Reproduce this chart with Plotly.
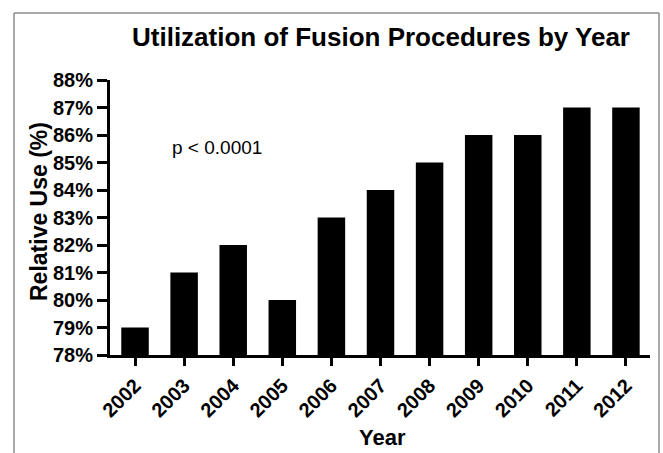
import plotly.graph_objects as go

years = ["2002", "2003", "2004", "2005", "2006", "2007", "2008", "2009", "2010", "2011", "2012"]
relative_use = [79, 81, 82, 80, 83, 84, 85, 86, 86, 87, 87]
y_ticks = [78, 79, 80, 81, 82, 83, 84, 85, 86, 87, 88]
y_tick_labels = [f"{v}%" for v in y_ticks]

FONT = "Liberation Sans"
L, R, T, B = 110, 650, 80, 355
PW, PH = R - L, B - T

fig = go.Figure(go.Bar(
    x=list(range(len(years))),
    y=relative_use,
    width=0.56,
    marker=dict(color="black", line=dict(width=0)),
))

fig.update_layout(
    width=663, height=453,
    margin=dict(l=L, r=663 - R, t=T, b=453 - B),
    paper_bgcolor="white", plot_bgcolor="white",
    showlegend=False,
    title=dict(text="<b>Utilization of Fusion Procedures by Year</b>",
               x=381 / 663, xanchor="center", y=1 - 37 / 453, yanchor="middle",
               font=dict(family=FONT, size=26, color="black")),
    font=dict(family=FONT, color="black"),
)

fig.update_xaxes(
    range=[-0.51, 10.49],
    tickmode="array", tickvals=list(range(len(years))), ticktext=[f"<b>{y}</b>" for y in years],
    tickangle=-45, tickfont=dict(size=20, family=FONT, color="black"),
    ticks="outside", ticklen=8, tickwidth=2.5, tickcolor="black",
    showline=True, linecolor="black", linewidth=3,
    showgrid=False, zeroline=False,
)

fig.update_yaxes(
    range=[78, 88],
    tickmode="array", tickvals=y_ticks, ticktext=[f"<b>{t}</b>" for t in y_tick_labels],
    tickfont=dict(size=20, family=FONT, color="black"),
    ticks="outside", ticklen=10, tickwidth=2.5, tickcolor="black",
    showline=True, linecolor="black", linewidth=3,
    showgrid=False, zeroline=False,
)

# axis titles
fig.add_annotation(
    text="<b>Year</b>", xref="paper", yref="paper",
    x=(382 - L) / PW, xanchor="center", y=(B - 437) / PH, yanchor="middle",
    showarrow=False, font=dict(family=FONT, size=22, color="black"),
)
fig.add_annotation(
    text="<b>Relative Use (%)</b>", xref="paper", yref="paper",
    x=(39 - L) / PW, xanchor="center", y=(B - 212) / PH, yanchor="middle",
    textangle=-90, showarrow=False, font=dict(family=FONT, size=23, color="black"),
)

fig.add_annotation(
    text="p < 0.0001", xref="paper", yref="paper",
    x=(171 - L) / PW, xanchor="left", y=(B - 147) / PH, yanchor="middle",
    showarrow=False, borderpad=0, font=dict(family=FONT, size=19, color="black"),
)

# outer frame
FX0 = (14 - L) / PW
FX1 = (659 - L) / PW
FY1 = (B - 13) / PH
FY0 = (B - 470) / PH
for x0, x1, y0, y1 in [(FX0, FX0, FY0, FY1), (FX1, FX1, FY0, FY1), (FX0, FX1, FY1, FY1)]:
    fig.add_shape(type="line", xref="paper", yref="paper",
                  x0=x0, x1=x1, y0=y0, y1=y1,
                  line=dict(color="#8c8c8c", width=1.5))

fig.write_html(
    "out.html",
    config={"displayModeBar": False},
    post_script="document.body.style.margin='0';document.body.style.overflow='hidden';",
)
